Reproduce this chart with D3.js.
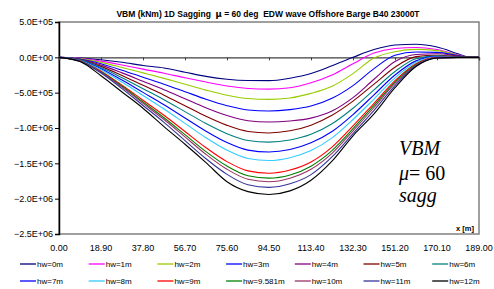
<!DOCTYPE html>
<html>
<head>
<meta charset="utf-8">
<script src="https://cdn.jsdelivr.net/npm/d3@7"></script>
<style>
  body { margin: 0; background: #fff; }
  svg { font-family: Arial, "Liberation Sans", sans-serif; }
</style>
</head>
<body>
<div id="vis"></div>
<script>
const width = 494;
const height = 289;

// stations along the barge (m)
const xStations = [0, 9.45, 18.9, 28.35, 37.8, 47.25, 56.7, 66.15, 75.6, 85.05, 94.5,
                   103.95, 113.4, 122.85, 132.3, 141.75, 151.2, 160.65, 170.1, 179.55, 184.0, 189];

// VBM values, in units of 1E+05 kNm
const hw0   = [0, -0.1, -0.35, -0.7, -1.15, -1.5, -2.1, -2.7, -3.1, -3.28, -3.3, -2.95, -2.3, -1.2, 0.0, 1.1, 1.75, 1.85, 1.45, 0.5, 0.05, 0];
const hw1   = [0, -0.13, -0.54, -1.08, -1.67, -2.25, -2.9, -3.5, -4.05, -4.4, -4.5, -4.3, -3.6, -2.5, -0.9, 0.6, 1.25, 1.4, 1.1, 0.35, 0.03, 0];
const hw2   = [0, -0.18, -0.71, -1.43, -2.2, -2.98, -3.81, -4.64, -5.36, -5.83, -5.95, -5.75, -5.1, -4.1, -2.3, -0.1, 0.8, 1.12, 0.95, 0.3, 0.02, 0];
const hw3   = [0, -0.23, -0.91, -1.82, -2.81, -3.8, -4.86, -5.93, -6.84, -7.45, -7.6, -7.4, -6.9, -5.8, -4.0, -1.6, 0.3, 0.75, 0.7, 0.25, 0.02, 0];
const hw4   = [0, -0.27, -1.1, -2.2, -3.39, -4.58, -5.86, -7.14, -8.24, -8.97, -9.15, -9.0, -8.6, -7.6, -5.7, -3.1, -0.6, 0.4, 0.5, 0.2, 0.02, 0];
const hw5   = [0, -0.32, -1.28, -2.57, -3.96, -5.35, -6.85, -8.35, -9.63, -10.49, -10.7, -10.4, -9.6, -8.2, -6.2, -3.8, -1.4, 0.1, 0.3, 0.12, 0.01, 0];
const hw6   = [0, -0.36, -1.44, -2.88, -4.44, -6.0, -7.68, -9.36, -10.8, -11.76, -12.0, -11.7, -10.9, -9.4, -7.2, -4.6, -2.0, -0.2, 0.2, 0.08, 0, 0];
const hw7   = [0, -0.4, -1.61, -3.22, -4.96, -6.7, -8.58, -10.45, -12.06, -13.13, -13.4, -13.05, -12.1, -10.5, -8.1, -5.3, -2.5, -0.5, 0.1, 0.05, 0, 0];
const hw8   = [0, -0.44, -1.75, -3.5, -5.4, -7.3, -9.34, -11.39, -13.14, -14.31, -14.6, -14.2, -13.2, -11.4, -8.8, -5.9, -2.9, -0.7, 0.05, 0.03, 0, 0];
const hw9   = [0, -0.49, -1.97, -3.94, -6.07, -8.2, -10.5, -12.79, -14.76, -16.07, -16.4, -15.95, -14.8, -12.7, -9.7, -6.5, -3.3, -0.9, 0, 0.02, 0, 0];
const hw9581 = [0, -0.51, -2.05, -4.1, -6.33, -8.55, -10.94, -13.34, -15.39, -16.76, -17.1, -16.65, -15.4, -13.2, -10.1, -6.8, -3.5, -1.0, -0.05, 0.01, 0, 0];
const hw10  = [0, -0.53, -2.11, -4.22, -6.51, -8.8, -11.26, -13.73, -15.84, -17.25, -17.6, -17.1, -15.85, -13.6, -10.4, -7.1, -3.7, -1.1, -0.07, 0, 0, 0];
const hw11  = [0, -0.55, -2.21, -4.42, -6.81, -9.2, -11.78, -14.35, -16.56, -18.03, -18.4, -17.9, -16.6, -14.1, -10.8, -7.5, -4.0, -1.2, -0.08, 0, 0, 0];
const hw12  = [0, -0.6, -2.6, -4.9, -7.2, -9.8, -12.3, -14.9, -17.6, -19.0, -19.4, -18.9, -17.4, -14.7, -11.1, -8.0, -4.3, -1.3, -0.1, 0, 0, 0];

const seriesNames = ['hw=0m', 'hw=1m', 'hw=2m', 'hw=3m', 'hw=4m', 'hw=5m', 'hw=6m',
                     'hw=7m', 'hw=8m', 'hw=9m', 'hw=9.581m', 'hw=10m', 'hw=11m', 'hw=12m'];
const seriesValues = [hw0, hw1, hw2, hw3, hw4, hw5, hw6, hw7, hw8, hw9, hw9581, hw10, hw11, hw12];
const seriesColors = ['#000080', '#ff00ff', '#99cc00', '#0000ff', '#800080', '#800000', '#008080',
                      '#0000ff', '#33ccff', '#ff0000', '#008000', '#993366', '#333399', '#000000'];

const xTicks = [0, 18.9, 37.8, 56.7, 75.6, 94.5, 113.4, 132.3, 151.2, 170.1, 189];
const yTicks = [5e5, 0, -5e5, -1e6, -1.5e6, -2e6, -2.5e6];

const plot = {left: 59, right: 479, top: 22, bottom: 234};

let vis = d3.select('#vis')
            .append('svg')
            .attr('width', width)
            .attr('height', height);

const x = d3.scaleLinear().domain([0, 189]).range([plot.left, plot.right]);
const y = d3.scaleLinear().domain([-2.5e6, 5e5]).range([plot.bottom, plot.top]);

// plot area frame (gray)
vis.append('rect')
   .attr('x', plot.left)
   .attr('y', plot.top)
   .attr('width', plot.right - plot.left)
   .attr('height', plot.bottom - plot.top)
   .attr('fill', 'none')
   .attr('stroke', '#808080')
   .attr('stroke-width', 1.5);

// title (keep the double spaces)
const title = vis.append('text')
   .attr('x', 268)
   .attr('y', 17)
   .attr('text-anchor', 'middle')
   .attr('xml:space', 'preserve')
   .style('white-space', 'pre')
   .style('font-size', '8.5px')
   .style('font-weight', 'bold');
title.append('tspan').text('VBM (kNm) 1D Sagging  ');
title.append('tspan').style('font-family', '"DejaVu Sans", sans-serif').text('\u03bc');
title.append('tspan').text(' = 60 deg  EDW wave Offshore Barge B40 23000T');

// y axis
const yAxis = d3.axisLeft(y)
                .tickValues(yTicks)
                .tickSize(4)
                .tickFormat(d => {
                    const s = d3.format('.1e')(d);   // e.g. 5.0e+5
                    const [m, e] = s.split('e');
                    const sign = e[0];
                    const digits = e.slice(1).padStart(2, '0');
                    return `${m}E${sign}${digits}`;
                });

const gy = vis.append('g')
              .attr('transform', `translate(${plot.left},0)`)
              .call(yAxis);
gy.select('.domain').attr('stroke', '#000').attr('stroke-width', 1.5);
gy.selectAll('.tick line').attr('stroke', '#000');
gy.selectAll('.tick text')
  .attr('x', -6)
  .style('font-size', '9px')
  .style('font-family', 'Arial, "Liberation Sans", sans-serif')
  .attr('fill', '#000');

// x axis across the zero line
const xAxis = d3.axisBottom(x)
                .tickValues(xTicks)
                .tickSize(3)
                .tickFormat('');
const gx = vis.append('g')
              .attr('transform', `translate(0,${y(0)})`)
              .call(xAxis);
gx.select('.domain').attr('stroke', '#404040').attr('stroke-width', 1.4);
gx.selectAll('.tick line').attr('stroke', '#404040');

// x tick labels, below the plot
vis.append('g')
   .selectAll('text')
   .data(xTicks)
   .enter()
   .append('text')
   .attr('x', d => x(d))
   .attr('y', 251)
   .attr('text-anchor', 'middle')
   .style('font-size', '9px')
   .text(d => d3.format('.2f')(d));

// curves
const line = d3.line()
               .x((d, i) => x(xStations[i]))
               .y(d => y(d * 1e5))
               .curve(d3.curveMonotoneX);

vis.append('g')
   .selectAll('path')
   .data(seriesValues)
   .enter()
   .append('path')
   .attr('d', d => line(d))
   .attr('fill', 'none')
   .attr('stroke', (d, i) => seriesColors[i])
   .attr('stroke-width', 1.1);

// x axis label
vis.append('text')
   .attr('x', 474)
   .attr('y', 231)
   .attr('text-anchor', 'end')
   .style('font-size', '7.5px')
   .style('font-weight', 'bold')
   .text('x [m]');

// annotation, italic serif
const serif = '"Liberation Serif", "Times New Roman", "DejaVu Serif", serif';
vis.append('text')
   .attr('x', 399).attr('y', 155)
   .style('font-family', serif).style('font-size', '20px').style('font-style', 'italic')
   .text('VBM');
const mu = vis.append('text')
   .attr('x', 399).attr('y', 180)
   .style('font-family', serif).style('font-size', '20px');
mu.append('tspan').style('font-style', 'italic').text('\u03bc');
mu.append('tspan').text('= 60');
vis.append('text')
   .attr('x', 399).attr('y', 202)
   .style('font-family', serif).style('font-size', '20px').style('font-style', 'italic')
   .text('sagg');

// legend: two rows of seven
const legend = vis.append('g')
                  .selectAll('g')
                  .data(seriesNames)
                  .enter()
                  .append('g')
                  .attr('transform', (d, i) => `translate(${20 + (i % 7) * 68.7},${i < 7 ? 264 : 281})`);

legend.append('line')
      .attr('x1', 0)
      .attr('x2', 16)
      .attr('stroke', (d, i) => seriesColors[i])
      .attr('stroke-width', 1.3);

legend.append('text')
      .attr('x', 17)
      .attr('y', 3)
      .style('font-size', '8px')
      .text(d => d);
</script>
</body>
</html>
